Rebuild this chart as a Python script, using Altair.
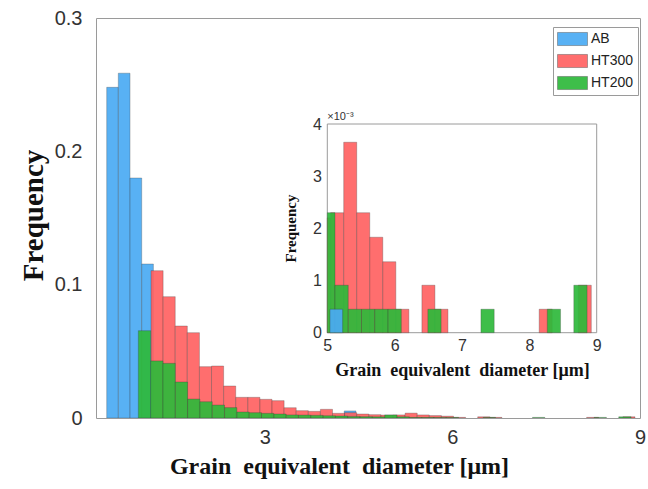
import altair as alt
import pandas as pd

# ---------------- data ----------------
SERIES = ["AB", "HT300", "HT200"]
COLORS = ["#4AABF4", "#FF6262", "#2EB93B"]

# AB: left bin edges (um) and probabilities
AB_LEFT = [0.471, 0.657, 0.844, 1.031, 4.27, 5.04]
AB_WIDTH = 0.187
AB_FREQ = [0.248, 0.2586, 0.180, 0.1155, 0.0053, 0.00045]

# HT300: bins start at HT300_START, fixed width
HT300_START = 1.18
HT300_WIDTH = 0.1935
HT300_FREQ = [0.1105, 0.091, 0.069, 0.064, 0.0385, 0.039, 0.024, 0.0155,
              0.0155, 0.014, 0.013, 0.0077, 0.0055, 0.005, 0.0065, 0.0035,
              0.004, 0.003, 0.0025, 0.0022, 0.0023, 0.00365, 0.0023, 0.00183,
              0.00136, 0.00045, 0.0, 0.00091, 0.00045, 0.0, 0.0, 0.0,
              0.0, 0.0, 0.0, 0.0, 0.00045, 0.0, 0.0, 0.00091]

# HT200
HT200_START = 0.977
HT200_WIDTH = 0.197
HT200_FREQ = [0.0655, 0.0428, 0.041, 0.027, 0.0142, 0.0122, 0.0097, 0.0078,
              0.0045, 0.004, 0.0035, 0.003, 0.0023, 0.0022, 0.002, 0.0017,
              0.0015, 0.0012, 0.001, 0.0009, 0.0023, 0.00091, 0.00045, 0.00045,
              0.00045, 0.00045, 0.0, 0.0, 0.00045, 0.0, 0.0, 0.0,
              0.00045, 0.0, 0.0, 0.0, 0.0, 0.00045, 0.0, 0.00091]

MAIN_X = [0.3, 9]
MAIN_Y = [0, 0.3]
MAIN_X_TICKS = [3, 6, 9]
MAIN_Y_TICKS = [0, 0.1, 0.2, 0.3]

INSET_X = [5, 9]
INSET_Y = [0, 4]          # in units of 1e-3
INSET_X_TICKS = [5, 6, 7, 8, 9]
INSET_Y_TICKS = [0, 1, 2, 3, 4]
EXPONENT_LABEL = "×10⁻³"

X_TITLE = "Grain\u00a0 equivalent\u00a0 diameter [μm]"
Y_TITLE = "Frequency"

# ---------------- table ----------------
rows = []
for x0, f in zip(AB_LEFT, AB_FREQ):
    rows.append(("AB", x0, x0 + AB_WIDTH, f))
for i, f in enumerate(HT300_FREQ):
    if f > 0:
        x0 = HT300_START + i * HT300_WIDTH
        rows.append(("HT300", x0, x0 + HT300_WIDTH, f))
for i, f in enumerate(HT200_FREQ):
    if f > 0:
        x0 = HT200_START + i * HT200_WIDTH
        rows.append(("HT200", x0, x0 + HT200_WIDTH, f))

df = pd.DataFrame(rows, columns=["series", "x0", "x1", "freq"])
df["base"] = 0.0

inset_rank = {"HT300": 0, "HT200": 1, "AB": 2}
df_in = df[df["x1"] > INSET_X[0]].copy()
df_in["rank"] = df_in["series"].map(inset_rank)
df_in = df_in.sort_values(["rank", "x0"]).reset_index(drop=True)
df_in["fe3"] = df_in["freq"] * 1000

SANS = "Liberation Sans"
SERIF = "Liberation Serif"

# ---------------- main histogram ----------------
main = alt.Chart(df).mark_rect(
    opacity=0.92, stroke="#333333", strokeWidth=0.5, strokeOpacity=0.6, clip=True
).encode(
    x=alt.X("x0:Q",
            scale=alt.Scale(domain=MAIN_X, nice=False, zero=False),
            axis=alt.Axis(values=MAIN_X_TICKS, title=X_TITLE, domain=False,
                          ticks=False, tickSize=0, grid=False, labelFlush=False,
                          labelFont=SANS, labelFontSize=20, labelColor="#333333",
                          labelPadding=9,
                          titleFont=SERIF, titleFontSize=24, titleFontWeight="bold",
                          titleColor="#111111", titleX=243, titleY=48,
                          titleBaseline="middle", titleAlign="center")),
    x2="x1:Q",
    y=alt.Y("freq:Q",
            scale=alt.Scale(domain=MAIN_Y, nice=False, zero=False),
            axis=alt.Axis(values=MAIN_Y_TICKS, format="~g", title=Y_TITLE,
                          domain=False, ticks=False, tickSize=0, grid=False,
                          labelFont=SANS, labelFontSize=20, labelColor="#333333",
                          labelPadding=14,
                          titleFont=SERIF, titleFontSize=29, titleFontWeight="bold",
                          titleColor="#111111", titleX=-63, titleY=197,
                          titleAngle=-90, titleBaseline="middle", titleAlign="center")),
    y2="base:Q",
    color=alt.Color("series:N",
                    scale=alt.Scale(domain=SERIES, range=COLORS),
                    legend=alt.Legend(title=None, orient="none", legendX=457, legendY=9,
                                      symbolType="M-1,-0.87H3V0.87H-1Z", symbolSize=225,
                                      symbolStrokeColor="#555555", symbolStrokeWidth=0.5,
                                      symbolOpacity=0.92,
                                      labelFont=SANS, labelFontSize=14, labelColor="#222222",
                                      labelOffset=18, rowPadding=6, padding=4,
                                      strokeColor="#9a9a9a", fillColor="white")),
)

# ---------------- inset ----------------
inset_xs = alt.Scale(domain=INSET_X, range=[231.3, 500.7], nice=False, zero=False, clamp=True)
inset_ys = alt.Scale(domain=INSET_Y, range=[314.7, 106], nice=False, zero=False, clamp=True)

inset_x_axis = alt.Axis(orient="bottom", offset=-85.3, values=INSET_X_TICKS, title=X_TITLE,
                        domain=False, ticks=False, tickSize=0, grid=False, labelFlush=False,
                        labelFont=SANS, labelFontSize=16, labelColor="#333333",
                        labelPadding=5,
                        titleFont=SERIF, titleFontSize=18, titleFontWeight="bold",
                        titleColor="#111111", titleY=38, titleBaseline="middle")
inset_y_axis = alt.Axis(orient="left", offset=-231.3, values=INSET_Y_TICKS, title=Y_TITLE,
                        domain=False, ticks=False, tickSize=0, grid=False,
                        labelFont=SANS, labelFontSize=16, labelColor="#333333",
                        labelPadding=6,
                        titleFont=SERIF, titleFontSize=15, titleFontWeight="bold",
                        titleColor="#111111", titleX=-37, titleY=210,
                        titleAngle=-90, titleBaseline="middle", titleAlign="center")

frame_df = pd.DataFrame({"x0": [INSET_X[0]], "x1": [INSET_X[1]],
                         "y0": [INSET_Y[0]], "y1": [INSET_Y[1]]})

frame = alt.Chart(frame_df).mark_rect(fill="white", stroke="#9a9a9a", strokeWidth=1).encode(
    x=alt.X("x0:Q", scale=inset_xs, axis=inset_x_axis),
    x2="x1:Q",
    y=alt.Y("y0:Q", scale=inset_ys, axis=inset_y_axis),
    y2="y1:Q",
)

inset_bars = alt.Chart(df_in).mark_rect(
    opacity=0.92, stroke="#333333", strokeWidth=0.5, strokeOpacity=0.6
).encode(
    x=alt.X("x0:Q", scale=inset_xs, axis=inset_x_axis),
    x2="x1:Q",
    y=alt.Y("fe3:Q", scale=inset_ys, axis=inset_y_axis),
    y2="base:Q",
    color=alt.Color("series:N", scale=alt.Scale(domain=SERIES, range=COLORS), legend=None),
)

exp_df = pd.DataFrame({"x": [INSET_X[0]], "y": [INSET_Y[1]], "t": [EXPONENT_LABEL]})
exponent = alt.Chart(exp_df).mark_text(
    align="left", baseline="bottom", dy=-2, font=SANS, fontSize=11, color="#333333"
).encode(
    x=alt.X("x:Q", scale=inset_xs, axis=inset_x_axis),
    y=alt.Y("y:Q", scale=inset_ys, axis=inset_y_axis),
    text="t:N",
)

inset = alt.layer(frame, inset_bars, exponent)

chart = alt.layer(main, inset).resolve_scale(
    x="independent", y="independent"
).resolve_axis(
    x="independent", y="independent"
).properties(
    width=544, height=400,
    padding={"left": 96, "top": 18, "right": 8, "bottom": 71},
    autosize=alt.AutoSizeParams(type="none"),
).configure_view(stroke="#9a9a9a", strokeWidth=1)

chart.save("out.html", embed_options={"renderer": "svg", "actions": False})
